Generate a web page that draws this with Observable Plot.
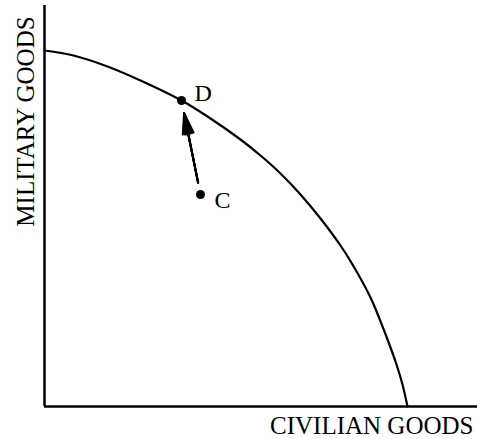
<!DOCTYPE html>
<html>
<head>
<meta charset="utf-8">
<script src="https://cdn.jsdelivr.net/npm/d3@7"></script>
<script src="https://cdn.jsdelivr.net/npm/@observablehq/plot@0.6"></script>
<style>
  html, body { margin: 0; padding: 0; background: #fff; }
  svg { display: block; }
</style>
</head>
<body>
<div id="chart"></div>
<script>
// Production possibilities frontier (arbitrary units)
const civilian = [0, 29, 63, 96, 137, 163, 196, 216, 236, 256, 276, 296, 308, 326, 343, 352, 358, 363];
const military = [356, 351, 340, 326, 306, 290, 267, 251, 233, 212, 188, 161, 142, 109, 67, 42, 22, 0];

const pointNames = ["D", "C"];
const pointCivilian = [137, 156];
const pointMilitary = [306, 212];

const xLabel = "CIVILIAN GOODS";
const yLabel = "MILITARY GOODS";

const curve = civilian.map((x, i) => ({x, y: military[i]}));
const points = pointNames.map((name, i) => ({name, x: pointCivilian[i], y: pointMilitary[i]}));
const D = points[0], C = points[1];
const move = [{x1: C.x, y1: C.y, x2: D.x, y2: D.y}];

const font = "'Liberation Serif', 'Times New Roman', serif";

const headMarks = [30, 22, 14, 7].map(a =>
  Plot.arrow(move, {
    x1: "x1", y1: "y1", x2: "x2", y2: "y2",
    stroke: "black", strokeWidth: 2,
    headAngle: a, headLength: 16,
    insetStart: 12, insetEnd: 13
  })
);

const chart = Plot.plot({
  width: 477,
  height: 439,
  marginLeft: 44,
  marginRight: 0,
  marginTop: 5,
  marginBottom: 33,
  x: {domain: [0, 433], axis: null},
  y: {domain: [0, 401], axis: null},
  style: {fontFamily: font, background: "white"},
  marks: [
    Plot.ruleX([0], {stroke: "black", strokeWidth: 2.5}),
    Plot.ruleY([0], {stroke: "black", strokeWidth: 2.5}),
    Plot.line(curve, {x: "x", y: "y", curve: "catmull-rom", stroke: "black", strokeWidth: 2.2}),
    ...headMarks,
    Plot.dot(points, {x: "x", y: "y", r: 4.5, fill: "black", stroke: "none"}),
    Plot.text([D], {x: "x", y: "y", text: "name", dx: 13, dy: 0, textAnchor: "start", lineAnchor: "bottom", fontSize: 24, fill: "black", fontFamily: font}),
    Plot.text([C], {x: "x", y: "y", text: "name", dx: 14, dy: 13, textAnchor: "start", lineAnchor: "bottom", fontSize: 24, fill: "black", fontFamily: font}),
    Plot.text([xLabel], {frameAnchor: "bottom-right", dx: -4, dy: 27, textAnchor: "end", lineAnchor: "bottom", fontSize: 25, fill: "black", fontFamily: font}),
    Plot.text([yLabel], {x: 0, y: 285, dx: -11, rotate: -90, textAnchor: "middle", lineAnchor: "bottom", fontSize: 25, fill: "black", fontFamily: font})
  ]
});
document.getElementById("chart").append(chart);
</script>
</body>
</html>
